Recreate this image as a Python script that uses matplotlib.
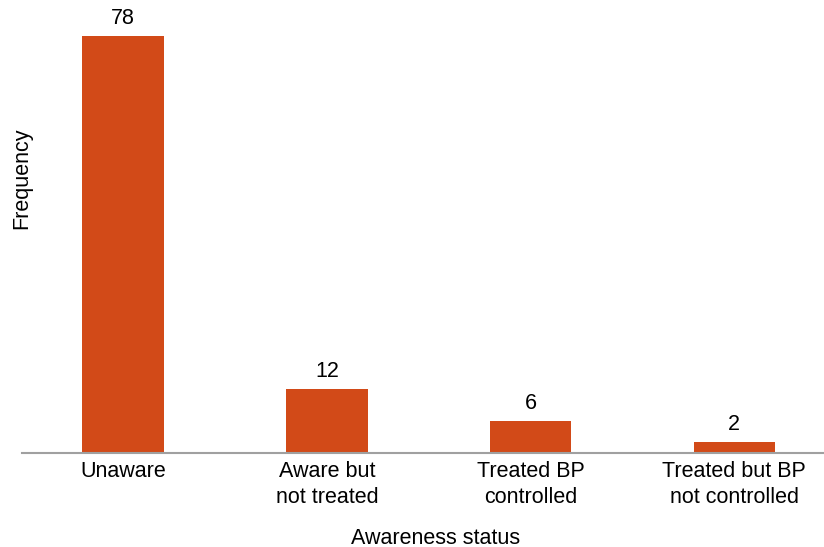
import matplotlib.pyplot as plt

plt.rcParams['font.family'] = ['Liberation Sans', 'DejaVu Sans']

categories = ["Unaware", "Aware but\nnot treated", "Treated BP\ncontrolled", "Treated but BP\nnot controlled"]
values = [78, 12, 6, 2]

fig = plt.figure(figsize=(8.24, 5.47), dpi=100)
ax = fig.add_axes([22 / 824, 94 / 547, 1 - 22 / 824, 443 / 547])

x = range(len(values))
bars = ax.bar(x, values, width=0.4, color="#D24A18")
ax.bar_label(bars, padding=5, fontsize=15.5)

ax.set_xlim(-0.496, 3.44)
ax.set_ylim(0, 82.9)
ax.set_xticks(list(x))
ax.set_xticklabels(categories, fontsize=15.5, linespacing=1.3)
ax.tick_params(axis="x", length=0, pad=6)
ax.set_yticks([])

for s in ["top", "right", "left"]:
    ax.spines[s].set_visible(False)
ax.spines["bottom"].set_color("#a0a0a0")
ax.spines["bottom"].set_linewidth(1.5)

fig.text(436 / 824, 1 - 538 / 547, "Awareness status", ha="center", va="center", fontsize=15.5)
fig.text(22 / 824, 1 - 178 / 547, "Frequency", ha="center", va="center", rotation=90, fontsize=15.5)

fig.savefig("out.png", dpi=100)
